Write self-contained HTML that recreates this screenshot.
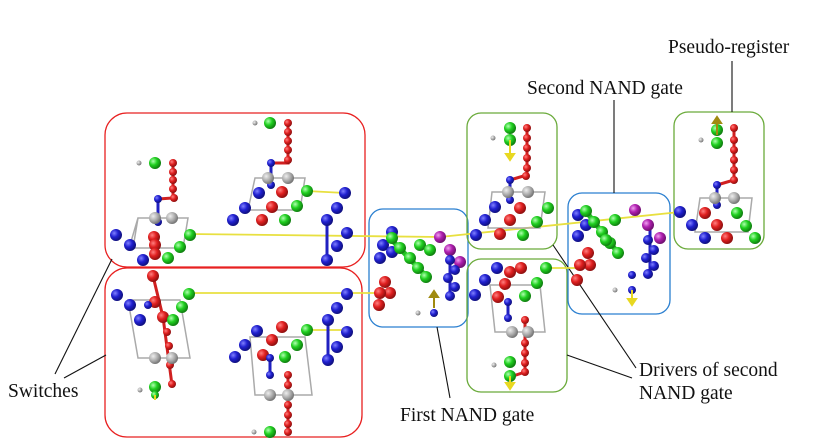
<!DOCTYPE html>
<html><head><meta charset="utf-8"><style>
html,body{margin:0;padding:0;background:#fff}
svg{display:block}
text{font-family:"Liberation Serif",serif;font-size:19.5px;fill:#111}
.r{fill:url(#gr)}.b{fill:url(#gb)}.g{fill:url(#gg)}.k{fill:url(#gk)}.p{fill:url(#gp)}
.cb{stroke:#aaa;stroke-width:1.5;fill:none}
</style></head><body>
<svg width="831" height="443" viewBox="0 0 831 443">
<defs>
<radialGradient id="gr" cx="35%" cy="35%" r="65%"><stop offset="0" stop-color="#ff8080"/><stop offset=".5" stop-color="#e02020"/><stop offset="1" stop-color="#901010"/></radialGradient>
<radialGradient id="gb" cx="35%" cy="35%" r="65%"><stop offset="0" stop-color="#8080ff"/><stop offset=".5" stop-color="#2020d0"/><stop offset="1" stop-color="#101080"/></radialGradient>
<radialGradient id="gg" cx="35%" cy="35%" r="65%"><stop offset="0" stop-color="#b0ffb0"/><stop offset=".5" stop-color="#20d020"/><stop offset="1" stop-color="#108010"/></radialGradient>
<radialGradient id="gk" cx="35%" cy="35%" r="65%"><stop offset="0" stop-color="#eee"/><stop offset=".6" stop-color="#aaa"/><stop offset="1" stop-color="#777"/></radialGradient>
<radialGradient id="gp" cx="35%" cy="35%" r="65%"><stop offset="0" stop-color="#f0a0f0"/><stop offset=".5" stop-color="#b020b0"/><stop offset="1" stop-color="#701070"/></radialGradient>
</defs>

<g fill="none" stroke-width="1.3">
<rect x="105" y="113" width="260" height="154" rx="22" stroke="#e82020"/>
<rect x="105" y="268" width="257" height="169" rx="22" stroke="#e82020"/>
<rect x="369" y="209" width="99" height="118" rx="14" stroke="#2a7fd0"/>
<rect x="467" y="113" width="90" height="136" rx="14" stroke="#6aaa3a"/>
<rect x="467" y="259" width="100" height="133" rx="14" stroke="#6aaa3a"/>
<rect x="568" y="193" width="102" height="121" rx="14" stroke="#2a7fd0"/>
<rect x="674" y="112" width="90" height="137" rx="14" stroke="#6aaa3a"/>
</g>

<g stroke="#111" stroke-width="1.1">
<line x1="732" y1="61" x2="732" y2="112"/>
<line x1="614" y1="100" x2="614" y2="193"/>
<line x1="55" y1="374" x2="112" y2="259"/>
<line x1="64" y1="378" x2="106" y2="355"/>
<line x1="437" y1="327" x2="450" y2="398"/>
<line x1="553" y1="245" x2="636" y2="368"/>
<line x1="567" y1="355" x2="632" y2="378"/>
</g>

<text x="668" y="53">Pseudo-register</text>
<text x="527" y="94">Second NAND gate</text>
<text x="8" y="397">Switches</text>
<text x="400" y="421">First NAND gate</text>
<text x="639" y="376">Drivers of second</text>
<text x="639" y="399">NAND gate</text>

<g stroke="#e8e040" stroke-width="1.8">
<line x1="190" y1="234" x2="440" y2="237"/>
<line x1="189" y1="293" x2="380" y2="293"/>
<line x1="440" y1="237" x2="680" y2="212"/>
<line x1="307" y1="191" x2="345" y2="193"/>
<line x1="307" y1="330" x2="347" y2="330"/>
<line x1="548" y1="268" x2="580" y2="268"/>
</g>

<g class="cb">
<path d="M138 218 L188 218 L183 248 L133 248 Z M138 218 L130 245 M188 218 L183 248"/>
<path d="M255 178 L305 178 L300 210 L248 210 Z"/>
<path d="M128 300 L180 300 L190 358 L138 358 Z"/>
<path d="M250 337 L305 337 L312 395 L255 395 Z"/>
<path d="M492 192 L545 192 L540 228 L488 228 Z"/>
<path d="M490 285 L540 285 L545 332 L495 332 Z"/>
<path d="M700 198 L752 198 L748 232 L695 232 Z"/>
</g>

<g stroke-width="3" fill="none">
<path d="M173 163 L173 198 L158 199" stroke="#d02020"/>
<path d="M288 123 L288 163 L271 163" stroke="#d02020"/>
<path d="M153 276 L163 317 L172 385" stroke="#d02020"/>
<path d="M288 375 L288 432" stroke="#d02020"/>
<path d="M527 128 L527 175 L510 180" stroke="#d02020"/>
<path d="M525 318 L525 372 L510 377" stroke="#d02020"/>
<path d="M734 128 L734 180 L717 185" stroke="#d02020"/>
<path d="M158 199 L158 222 M271 163 L271 185 M327 220 L327 260 M270 358 L270 375 M510 180 L510 200 M508 302 L508 318 M717 185 L717 205 M328 320 L328 360 M450 245 L450 300 M650 220 L650 275" stroke="#2020c0"/>
<path d="M390 238 L425 275 M585 210 L618 253" stroke="#20c020" stroke-width="5"/>
</g>

<g>
<circle class="k" cx="139" cy="163" r="2.5"/><circle class="g" cx="155" cy="163" r="6"/>
<circle class="r" cx="173" cy="163" r="4"/><circle class="r" cx="173" cy="172" r="4"/><circle class="r" cx="173" cy="180" r="4"/><circle class="r" cx="173" cy="189" r="4"/><circle class="r" cx="174" cy="198" r="4"/>
<circle class="b" cx="158" cy="199" r="4"/><circle class="b" cx="158" cy="222" r="4"/>
<circle class="k" cx="155" cy="218" r="6"/><circle class="k" cx="172" cy="218" r="6"/>
<circle class="b" cx="116" cy="235" r="6"/><circle class="b" cx="130" cy="245" r="6"/><circle class="b" cx="143" cy="260" r="6"/>
<circle class="r" cx="154" cy="237" r="6"/><circle class="r" cx="155" cy="245" r="6"/><circle class="r" cx="155" cy="254" r="6"/>
<circle class="g" cx="190" cy="235" r="6"/><circle class="g" cx="180" cy="247" r="6"/><circle class="g" cx="168" cy="258" r="6"/>

<circle class="k" cx="255" cy="123" r="2.5"/><circle class="g" cx="270" cy="123" r="6"/>
<circle class="r" cx="288" cy="123" r="4"/><circle class="r" cx="288" cy="132" r="4"/><circle class="r" cx="288" cy="141" r="4"/><circle class="r" cx="288" cy="150" r="4"/><circle class="r" cx="288" cy="160" r="4"/>
<circle class="b" cx="271" cy="163" r="4"/><circle class="b" cx="271" cy="185" r="4"/>
<circle class="k" cx="268" cy="178" r="6"/><circle class="k" cx="288" cy="178" r="6"/>
<circle class="r" cx="282" cy="192" r="6"/><circle class="r" cx="272" cy="207" r="6"/><circle class="r" cx="262" cy="220" r="6"/>
<circle class="b" cx="259" cy="193" r="6"/><circle class="b" cx="245" cy="208" r="6"/><circle class="b" cx="233" cy="220" r="6"/>
<circle class="g" cx="307" cy="191" r="6"/><circle class="g" cx="297" cy="206" r="6"/><circle class="g" cx="285" cy="220" r="6"/>
<circle class="b" cx="345" cy="193" r="6"/><circle class="b" cx="337" cy="208" r="6"/><circle class="b" cx="327" cy="220" r="6"/>
<circle class="b" cx="347" cy="233" r="6"/><circle class="b" cx="337" cy="246" r="6"/><circle class="b" cx="327" cy="260" r="6"/>

<circle class="r" cx="153" cy="276" r="6"/><circle class="r" cx="155" cy="302" r="6"/><circle class="r" cx="163" cy="317" r="6"/>
<circle class="r" cx="167" cy="332" r="4"/><circle class="r" cx="169" cy="346" r="4"/><circle class="r" cx="170" cy="365" r="4"/><circle class="r" cx="172" cy="384" r="4"/>
<circle class="b" cx="117" cy="295" r="6"/><circle class="b" cx="130" cy="305" r="6"/><circle class="b" cx="140" cy="320" r="6"/><circle class="b" cx="148" cy="305" r="4"/>
<circle class="g" cx="189" cy="294" r="6"/><circle class="g" cx="182" cy="307" r="6"/><circle class="g" cx="173" cy="320" r="6"/>
<circle class="k" cx="155" cy="358" r="6"/><circle class="k" cx="172" cy="358" r="6"/>
<circle class="k" cx="140" cy="390" r="2.5"/><circle class="g" cx="155" cy="387" r="6"/><circle class="g" cx="155" cy="395" r="4"/>

<circle class="r" cx="282" cy="327" r="6"/><circle class="r" cx="272" cy="340" r="6"/><circle class="r" cx="263" cy="355" r="6"/>
<circle class="b" cx="257" cy="331" r="6"/><circle class="b" cx="245" cy="345" r="6"/><circle class="b" cx="235" cy="357" r="6"/>
<circle class="g" cx="307" cy="330" r="6"/><circle class="g" cx="297" cy="345" r="6"/><circle class="g" cx="285" cy="357" r="6"/>
<circle class="b" cx="270" cy="358" r="4"/><circle class="b" cx="270" cy="375" r="4"/>
<circle class="k" cx="270" cy="395" r="6"/><circle class="k" cx="288" cy="395" r="6"/>
<circle class="r" cx="288" cy="375" r="4"/><circle class="r" cx="288" cy="385" r="4"/><circle class="r" cx="288" cy="405" r="4"/><circle class="r" cx="288" cy="415" r="4"/><circle class="r" cx="288" cy="424" r="4"/><circle class="r" cx="288" cy="432" r="4"/>
<circle class="k" cx="254" cy="432" r="2.5"/><circle class="g" cx="270" cy="432" r="6"/>
<circle class="b" cx="347" cy="294" r="6"/><circle class="b" cx="337" cy="308" r="6"/><circle class="b" cx="328" cy="320" r="6"/>
<circle class="b" cx="347" cy="332" r="6"/><circle class="b" cx="337" cy="347" r="6"/><circle class="b" cx="328" cy="360" r="6"/>

<circle class="b" cx="392" cy="232" r="6"/><circle class="b" cx="383" cy="245" r="6"/><circle class="b" cx="392" cy="252" r="6"/><circle class="b" cx="380" cy="258" r="6"/>
<circle class="g" cx="392" cy="238" r="6"/><circle class="g" cx="400" cy="248" r="6"/><circle class="g" cx="410" cy="258" r="6"/><circle class="g" cx="418" cy="268" r="6"/><circle class="g" cx="426" cy="277" r="6"/><circle class="g" cx="420" cy="245" r="6"/><circle class="g" cx="430" cy="250" r="6"/>
<circle class="r" cx="385" cy="282" r="6"/><circle class="r" cx="390" cy="293" r="6"/><circle class="r" cx="380" cy="293" r="6"/><circle class="r" cx="379" cy="305" r="6"/>
<circle class="p" cx="440" cy="237" r="6"/><circle class="p" cx="450" cy="250" r="6"/><circle class="p" cx="460" cy="262" r="6"/>
<circle class="b" cx="450" cy="260" r="5"/><circle class="b" cx="455" cy="270" r="5"/><circle class="b" cx="448" cy="278" r="5"/><circle class="b" cx="455" cy="287" r="5"/><circle class="b" cx="450" cy="296" r="5"/>
<circle class="b" cx="434" cy="313" r="4"/><circle class="k" cx="418" cy="313" r="2.5"/>

<circle class="k" cx="493" cy="138" r="2.5"/><circle class="g" cx="510" cy="128" r="6"/><circle class="g" cx="510" cy="140" r="6"/>
<circle class="r" cx="527" cy="128" r="4"/><circle class="r" cx="527" cy="138" r="4"/><circle class="r" cx="527" cy="148" r="4"/><circle class="r" cx="527" cy="158" r="4"/><circle class="r" cx="527" cy="168" r="4"/><circle class="r" cx="526" cy="176" r="4"/>
<circle class="b" cx="510" cy="180" r="4"/><circle class="b" cx="510" cy="200" r="4"/>
<circle class="k" cx="508" cy="192" r="6"/><circle class="k" cx="528" cy="192" r="6"/>
<circle class="b" cx="495" cy="207" r="6"/><circle class="b" cx="485" cy="220" r="6"/><circle class="b" cx="476" cy="235" r="6"/>
<circle class="r" cx="520" cy="208" r="6"/><circle class="r" cx="510" cy="220" r="6"/><circle class="r" cx="500" cy="234" r="6"/>
<circle class="g" cx="548" cy="208" r="6"/><circle class="g" cx="537" cy="222" r="6"/><circle class="g" cx="523" cy="235" r="6"/>

<circle class="b" cx="497" cy="268" r="6"/><circle class="b" cx="485" cy="280" r="6"/><circle class="b" cx="475" cy="295" r="6"/>
<circle class="r" cx="510" cy="272" r="6"/><circle class="r" cx="521" cy="268" r="6"/><circle class="r" cx="505" cy="284" r="6"/><circle class="r" cx="498" cy="297" r="6"/>
<circle class="g" cx="546" cy="268" r="6"/><circle class="g" cx="537" cy="283" r="6"/><circle class="g" cx="525" cy="296" r="6"/>
<circle class="b" cx="508" cy="302" r="4"/><circle class="b" cx="508" cy="318" r="4"/>
<circle class="k" cx="512" cy="332" r="6"/><circle class="k" cx="528" cy="332" r="6"/>
<circle class="r" cx="525" cy="320" r="4"/><circle class="r" cx="525" cy="343" r="4"/><circle class="r" cx="525" cy="353" r="4"/><circle class="r" cx="525" cy="363" r="4"/><circle class="r" cx="525" cy="372" r="4"/>
<circle class="k" cx="494" cy="365" r="2.5"/><circle class="g" cx="510" cy="362" r="6"/><circle class="g" cx="510" cy="376" r="6"/>

<circle class="b" cx="578" cy="215" r="6"/><circle class="b" cx="586" cy="225" r="6"/><circle class="b" cx="578" cy="236" r="6"/>
<circle class="g" cx="586" cy="211" r="6"/><circle class="g" cx="594" cy="222" r="6"/><circle class="g" cx="602" cy="232" r="6"/><circle class="g" cx="610" cy="243" r="6"/><circle class="g" cx="618" cy="253" r="6"/><circle class="g" cx="615" cy="220" r="6"/><circle class="g" cx="606" cy="240" r="6"/>
<circle class="r" cx="588" cy="253" r="6"/><circle class="r" cx="590" cy="265" r="6"/><circle class="r" cx="580" cy="265" r="6"/><circle class="r" cx="577" cy="280" r="6"/>
<circle class="p" cx="635" cy="210" r="6"/><circle class="p" cx="648" cy="225" r="6"/><circle class="p" cx="660" cy="238" r="6"/>
<circle class="b" cx="648" cy="240" r="5"/><circle class="b" cx="654" cy="250" r="5"/><circle class="b" cx="646" cy="258" r="5"/><circle class="b" cx="654" cy="266" r="5"/><circle class="b" cx="648" cy="274" r="5"/>
<circle class="b" cx="632" cy="275" r="4"/><circle class="b" cx="632" cy="290" r="4"/><circle class="k" cx="615" cy="290" r="2.5"/>

<circle class="k" cx="701" cy="140" r="2.5"/><circle class="g" cx="717" cy="130" r="6"/><circle class="g" cx="717" cy="143" r="6"/>
<circle class="r" cx="734" cy="128" r="4"/><circle class="r" cx="734" cy="140" r="4"/><circle class="r" cx="734" cy="150" r="4"/><circle class="r" cx="734" cy="160" r="4"/><circle class="r" cx="734" cy="170" r="4"/><circle class="r" cx="734" cy="180" r="4"/>
<circle class="b" cx="717" cy="185" r="4"/><circle class="b" cx="717" cy="205" r="4"/>
<circle class="k" cx="715" cy="198" r="6"/><circle class="k" cx="734" cy="198" r="6"/>
<circle class="b" cx="680" cy="212" r="6"/><circle class="b" cx="692" cy="225" r="6"/><circle class="b" cx="705" cy="238" r="6"/>
<circle class="r" cx="705" cy="213" r="6"/><circle class="r" cx="717" cy="225" r="6"/><circle class="r" cx="727" cy="238" r="6"/>
<circle class="g" cx="737" cy="213" r="6"/><circle class="g" cx="746" cy="226" r="6"/><circle class="g" cx="755" cy="238" r="6"/>
</g>
<g fill="#e8d820" stroke="#e8d820" stroke-width="2">
<line x1="510" y1="140" x2="510" y2="155"/><path d="M506 154 L514 154 L510 160 Z"/>
<line x1="510" y1="376" x2="510" y2="384"/><path d="M506 383 L514 383 L510 389 Z"/>
<line x1="632" y1="290" x2="632" y2="300"/><path d="M628 299 L636 299 L632 305 Z"/>
<line x1="155" y1="395" x2="155" y2="400"/>
</g>
<g fill="#a08a10" stroke="#a08a10" stroke-width="2">
<line x1="717" y1="122" x2="717" y2="135"/><path d="M713 123 L721 123 L717 117 Z"/>
<line x1="434" y1="296" x2="434" y2="308"/><path d="M430 297 L438 297 L434 291 Z"/>
</g>
</svg>
</body></html>
